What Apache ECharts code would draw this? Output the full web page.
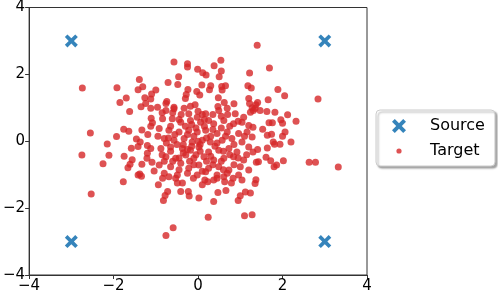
<!DOCTYPE html>
<html><head><meta charset="utf-8">
<script src="https://cdn.jsdelivr.net/npm/echarts@6/dist/echarts.min.js"></script>
<style>html,body{margin:0;padding:0;background:#fff}#c{width:498px;height:294px}</style>
</head><body><div id="c"></div>
<script>
var axisTicks = [-4, -2, 0, 2, 4];
var sourceX = [-3, 3, -3, 3];
var sourceY = [3, 3, -3, -3];
var targetPts = [
[-2.74,1.59],[-1.92,1.60],[-1.39,1.85],[-1.31,1.63],[-1.42,1.54],[-1.70,1.29],[-1.85,1.16],[-1.26,1.30],[-1.10,1.41],[-1.24,1.13],[-1.12,1.26],[-1.35,1.03],
[-0.57,2.37],[-0.25,2.32],[-0.25,2.22],[-0.01,2.15],[0.11,2.05],[0.19,1.98],[0.38,2.26],[0.54,2.42],[0.55,2.10],[0.50,1.93],[-0.46,1.93],[-0.71,1.76],[-0.48,1.70],[0.09,1.68],[0.30,1.66],[0.27,1.54],[-0.03,1.49],[0.04,1.38],[-0.24,1.55],[-0.28,1.40],[-0.30,1.28],[0.56,1.64],[0.65,1.66],[0.57,1.53],[0.48,1.30],[0.62,1.16],[-0.74,1.19],[-0.76,1.13],[-1.0,1.53],[-0.57,1.02],[-0.18,1.05],[-0.07,1.09],[0.47,1.04],[0.85,1.12],[1.22,2.04],[1.18,1.66],[1.20,1.28],[1.22,1.13],
[1.40,2.87],[1.69,2.19],[1.26,1.59],[1.89,1.55],[2.05,1.36],[1.66,1.24],[2.84,1.26],[1.41,1.16],[1.37,1.09],
[-1.62,0.89],[-1.12,0.99],[-1.11,0.69],[-1.08,0.55],[-1.12,0.45],[-1.33,0.34],[-1.76,0.36],[-1.64,0.30],[-2.55,0.25],[-1.93,0.14],[-1.19,0.20],[-1.46,0.07],[-1.37,-0.02],[-2.15,-0.08],[-1.58,-0.21],[-1.42,-0.16],[-1.20,-0.13],[-1.12,-0.22],[-2.75,-0.41],[-2.11,-0.42],[-1.75,-0.45],[-1.20,-0.36],[-1.21,-0.51],[-1.56,-0.55],[-1.61,-0.69],[-1.66,-0.79],[-2.25,-0.67],[-1.33,-0.69],[-1.09,-0.63],[-1.38,-0.98],[-1.04,-0.89],
[1.31,0.92],[1.47,0.92],[1.63,0.89],[1.82,0.87],[2.12,0.79],[2.32,0.60],[1.96,0.64],[2.00,0.54],[1.68,0.55],[1.76,0.55],[1.53,0.36],[1.30,0.42],[1.28,0.13],[1.64,0.18],[1.74,0.21],[2.06,0.28],[2.00,0.15],[2.20,-0.02],[1.78,-0.02],[1.81,-0.09],[1.94,-0.09],[1.64,-0.20],[1.41,-0.25],[1.30,-0.32],[1.61,-0.48],[1.72,-0.58],[2.02,-0.58],[1.38,-0.63],[1.43,-0.61],[1.86,-0.71],[1.80,-0.76],[2.63,-0.63],[2.78,-0.63],[3.32,-0.77],[1.28,1.0],[1.35,0.98],
[-2.53,-1.58],[-1.77,-1.21],[-1.42,-1.01],[-1.34,-1.05],
[-0.94,-1.30],[-0.84,-1.11],[-0.69,-1.06],[-0.53,-1.11],[-0.49,-1.25],[-0.37,-1.25],[-0.11,-1.11],[0.10,-1.30],[0.16,-1.16],[0.23,-1.21],[0.37,-1.16],[0.45,-1.11],[0.61,-1.06],[0.63,-1.21],[0.79,-1.25],[0.83,-1.11],[1.04,-1.16],[-0.72,-1.50],[-0.78,-1.62],[-0.82,-1.77],[-0.41,-1.50],[-0.23,-1.50],[-0.21,-1.64],[0.02,-1.70],[0.37,-1.80],[0.47,-1.53],[0.66,-1.47],[0.95,-1.77],[1.00,-1.63],[1.12,-1.52],[0.24,-2.27],[1.10,-2.23],[-0.59,-2.59],[-0.76,-2.82],
[1.37,-1.15],[1.35,-1.26],[1.24,-1.55],[1.28,-2.20],
[-0.96,1.02],[-0.76,0.92],[-0.57,0.97],[-0.33,0.99],[-0.22,0.82],[-0.02,0.72],[0.18,0.82],[0.25,0.62],[0.49,0.92],[0.69,0.99],[0.88,0.82],[1.08,0.72],[1.24,0.87],
[-0.84,0.67],[-0.61,0.67],[-0.41,0.57],[-0.18,0.62],[0.06,0.57],[0.37,0.52],[0.61,0.62],[0.84,0.52],[1.04,0.57],[1.20,0.47],
[-0.92,0.38],[-0.69,0.33],[-0.45,0.28],[-0.22,0.33],[-0.02,0.28],[0.18,0.33],[0.45,0.23],[0.69,0.28],[0.96,0.23],[1.16,0.28],
[-0.80,0.08],[-0.57,0.03],[-0.33,0.08],[-0.14,-0.02],[0.10,0.03],[0.29,-0.02],[0.57,0.03],[0.80,0.08],[1.04,-0.02],
[-0.88,-0.22],[-0.65,-0.17],[-0.37,-0.22],[-0.18,-0.27],[0.02,-0.17],[0.25,-0.32],[0.49,-0.27],[0.73,-0.22],[0.92,-0.32],[1.20,-0.17],
[-0.76,-0.46],[-0.53,-0.51],[-0.29,-0.41],[-0.10,-0.51],[0.14,-0.46],[0.37,-0.56],[0.61,-0.51],[0.84,-0.46],[1.08,-0.56],
[-0.92,-0.71],[-0.65,-0.76],[-0.41,-0.66],[-0.22,-0.81],[0.02,-0.71],[0.25,-0.81],[0.49,-0.76],[0.73,-0.86],[1.00,-0.76],[1.20,-0.86],
[-0.80,-0.96],[-0.49,-1.01],[-0.25,-0.96],[-0.02,-1.01],[0.18,-0.91],[0.45,-1.01],[0.69,-0.96],[0.96,-1.01],
[-0.10,0.15],[0.05,-0.10],[-0.30,0.45],[0.15,0.45],[-0.05,-0.40],[0.30,0.15],[-0.50,-0.10],[0.40,-0.15],[-0.20,-0.60],[0.10,0.80],[-0.40,0.80],[0.60,-0.30],[-0.70,0.10],[0.00,0.00],[0.20,-0.60],[-0.15,0.50],[0.35,0.80],[-0.60,-0.60],[0.55,0.40],[-0.35,-0.35],
[-0.85,0.85],[-0.65,0.45],[-0.45,0.65],[-0.25,0.20],[-0.05,0.40],[0.15,0.65],[0.35,0.35],[0.55,0.75],[0.75,0.45],[0.95,0.60],
[-0.95,0.15],[-0.75,-0.05],[-0.55,0.20],[-0.35,-0.10],[-0.15,-0.15],[0.20,0.10],[0.45,-0.05],[0.65,0.15],[0.85,-0.10],[1.10,0.15],
[-0.85,-0.40],[-0.65,-0.30],[-0.45,-0.50],[-0.25,-0.25],[0.05,-0.30],[0.30,-0.45],[0.55,-0.60],[0.75,-0.40],[0.95,-0.50],[1.15,-0.40],
[-0.80,-0.60],[-0.45,-0.85],[-0.10,-0.70],[0.10,-0.90],[0.35,-0.70],[0.60,-0.85],[0.85,-0.70],[-0.60,0.85],[0.00,0.90],[0.70,0.80]
];
var targetX = targetPts.map(function(p){return p[0];});
var targetY = targetPts.map(function(p){return p[1];});

var xPath = 'path://M2,0 L5,3 L8,0 L10,2 L7,5 L10,8 L8,10 L5,7 L2,10 L0,8 L3,5 L0,2 Z';
var dotIcon = 'path://M0,0 L0.01,0 M14,14 L13.99,14 M7,4.4 A2.6,2.6 0 1 1 7,9.6 A2.6,2.6 0 1 1 7,4.4 Z';
var fmt = function(v){ return String(v).replace('-', '\u2212'); };
var font = 'DejaVu Sans';
var chart = echarts.init(document.getElementById('c'), null, {renderer:'canvas'});
var axisCommon = {
  type:'value', min:-4, max:4, interval:2,
  axisLine:{show:true, onZero:false, lineStyle:{color:'#333', width:1}},
  axisTick:{show:true, inside:false, length:4, lineStyle:{color:'#333'}},
  splitLine:{show:false},
  axisLabel:{color:'#000', fontSize:15, fontFamily:font, formatter:fmt, margin:4}
};
chart.setOption({
  animation:false,
  grid:{left:27, right:131, top:6, bottom:18, show:true, borderColor:'#333', borderWidth:1, containLabel:false},
  xAxis: axisCommon,
  yAxis: echarts.util.clone(axisCommon),
  legend:{
    orient:'vertical', left:376, top:110, data:[
      {name:'Source', icon:xPath},
      {name:'Target', icon:dotIcon}
    ],
    itemWidth:14, itemHeight:14, itemGap:9,
    textStyle:{fontSize:16, fontFamily:font, color:'#000', padding:[0,0,0,19]},
    padding:[8,10,7,16],
    borderColor:'#ccc', borderWidth:1, borderRadius:4,
    backgroundColor:'#fff', shadowColor:'rgba(0,0,0,0.35)', shadowBlur:2, shadowOffsetX:2, shadowOffsetY:2
  },
  series:[
    {name:'Source', type:'scatter', symbol:xPath, symbolSize:13,
     itemStyle:{color:'#1f77b4', opacity:0.9},
     data: sourceX.map(function(x,i){return [x, sourceY[i]];})},
    {name:'Target', type:'scatter', symbol:'circle', symbolSize:7,
     itemStyle:{color:'#d62728', opacity:0.8},
     data: targetX.map(function(x,i){return [x, targetY[i]];})}
  ]
});
</script></body></html>
